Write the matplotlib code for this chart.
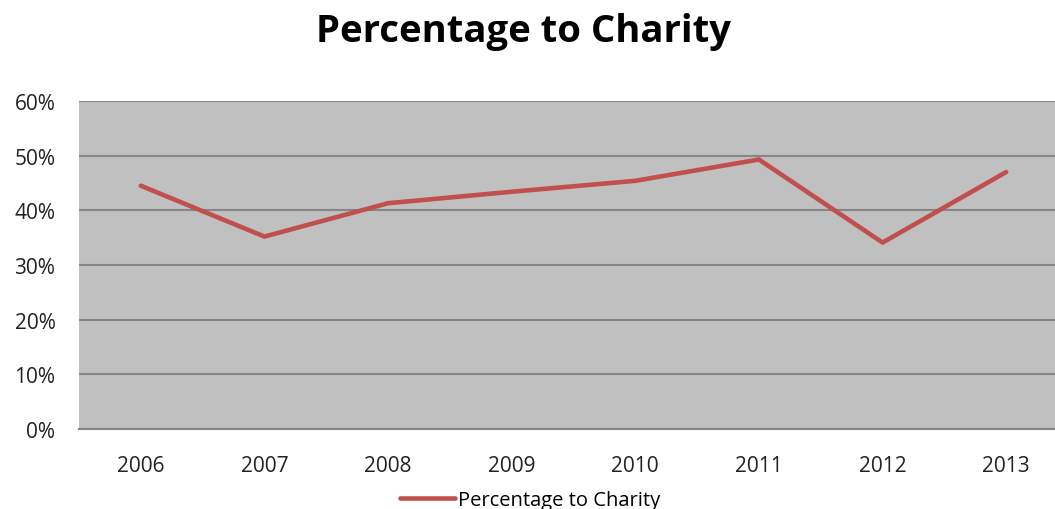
import matplotlib
matplotlib.use("Agg")
import matplotlib.pyplot as plt
from matplotlib.ticker import PercentFormatter

years = ["2006", "2007", "2008", "2009", "2010", "2011", "2012", "2013"]
charity_pct = [0.445, 0.352, 0.413, 0.434, 0.454, 0.493, 0.341, 0.470]
y_ticks = [0.0, 0.1, 0.2, 0.3, 0.4, 0.5, 0.6]

plt.rcParams["font.family"] = ["Open Sans", "DejaVu Sans"]

fig = plt.figure(figsize=(10.55, 5.1), dpi=100)
ax = fig.add_axes([79 / 1055, 1 - 430 / 510, (1068 - 79) / 1055, (430 - 102) / 510])
ax.set_facecolor("#c0c0c0")

x = list(range(len(years)))
ax.plot(x, charity_pct, color="#c0504d", linewidth=3.3, solid_capstyle="round",
        label="Percentage to Charity", zorder=3)

ax.set_xlim(-0.5, len(years) - 0.5)
ax.set_ylim(0, 0.6)
ax.set_yticks(y_ticks)
ax.yaxis.set_major_formatter(PercentFormatter(1.0, decimals=0))
ax.set_xticks(x)
ax.set_xticklabels(years)
ax.grid(axis="y", color="#868686", linewidth=1.5)
ax.set_axisbelow(True)
for side in ["left", "right", "top"]:
    ax.spines[side].set_visible(False)
ax.spines["bottom"].set_color("#868686")
ax.spines["bottom"].set_linewidth(1.5)
ax.tick_params(axis="both", length=0, labelsize=15, colors="#222222")
ax.tick_params(axis="y", pad=17)
ax.tick_params(axis="x", pad=19)

fig.text(0.496, 1 - 32 / 510, "Percentage to Charity", ha="center", va="center",
         fontsize=27.5, fontweight="bold", color="black")

fig.legend(loc="center", bbox_to_anchor=(530 / 1055, 1 - 501 / 510), frameon=False,
           fontsize=14.5, handlelength=2.7, handletextpad=0.15)

fig.savefig("out.png", dpi=100)
